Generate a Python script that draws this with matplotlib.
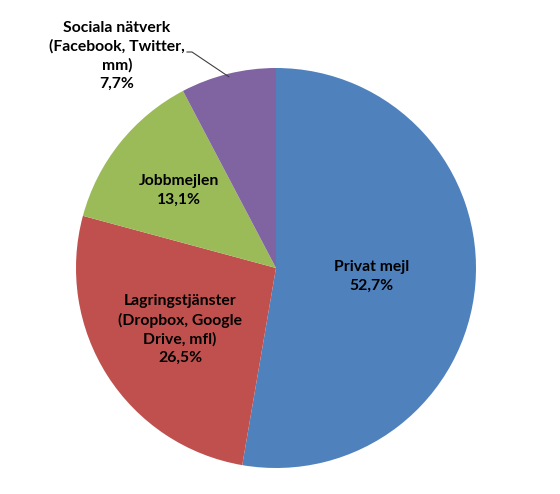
import matplotlib
matplotlib.use("Agg")
import matplotlib.pyplot as plt
import numpy as np

# data
labels = ["Privat mejl", "Lagringstjänster\n(Dropbox, Google\nDrive, mfl)", "Jobbmejlen",
          "Sociala nätverk\n(Facebook, Twitter,\nmm)"]
values = [52.7, 26.5, 13.1, 7.7]
value_text = ["52,7%", "26,5%", "13,1%", "7,7%"]
colors = ["#4F81BD", "#C0504D", "#9BBB59", "#8064A2"]

plt.rcParams['font.family'] = ['Lato', 'DejaVu Sans']

W, H = 560, 494
fig = plt.figure(figsize=(W / 100, H / 100), dpi=100)
cx, cy, r = 276, 268, 200
ax = fig.add_axes([(cx - r) / W, (H - cy - r) / H, 2 * r / W, 2 * r / H])

wedges, _ = ax.pie(values, colors=colors, startangle=90, counterclock=False,
                   radius=1, wedgeprops=dict(linewidth=0))
ax.set_xlim(-1, 1)
ax.set_ylim(-1, 1)
ax.set_aspect('equal')
ax.axis('off')

fs = 11.3
ls = 1.4
# label distance from centre for each slice
dist = [0.48, 0.57, 0.62, None]
for w, lab, vt, d in zip(wedges, labels, value_text, dist):
    theta = np.deg2rad((w.theta1 + w.theta2) / 2)
    if d is not None:
        ax.text(d * np.cos(theta), d * np.sin(theta), lab + "\n" + vt,
                ha='center', va='center', fontsize=fs, fontweight='bold',
                linespacing=ls, color='black')

# outside label with leader line for the small slice
w = wedges[3]
theta = np.deg2rad((w.theta1 + w.theta2) / 2)
ax.text(-0.795, 1.06, labels[3] + "\n" + value_text[3], ha='center', va='center',
        fontsize=fs, fontweight='bold', linespacing=ls, color='black')
ex, ey = 0.985 * np.cos(theta), 0.985 * np.sin(theta)
ax.plot([-0.445, -0.42, ex], [1.08, 1.08, ey], color='#404040', lw=0.8,
        clip_on=False)

fig.savefig("out.png", dpi=100, facecolor='white')
